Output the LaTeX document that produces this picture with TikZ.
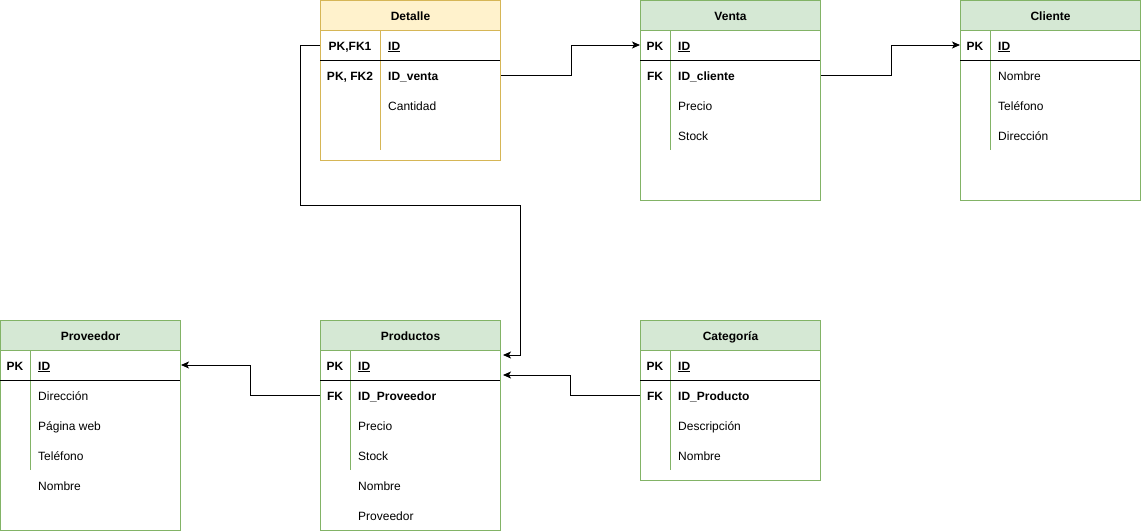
\documentclass[tikz,border=0pt]{standalone}
\usepackage{fontspec}
\setmainfont{Liberation Sans}
\usetikzlibrary{arrows.meta,calc}
\definecolor{gstroke}{HTML}{82B366}
\definecolor{gfill}{HTML}{D5E8D4}
\definecolor{ystroke}{HTML}{D6B656}
\definecolor{yfill}{HTML}{FFF2CC}
\begin{document}
\begin{tikzpicture}[x=1pt,y=-1pt,
  font=\fontsize{12}{14}\selectfont,
  tbody/.style={draw=#1, line width=1pt, fill=white, anchor=north west, minimum width=180pt, inner sep=0pt},
  thead/.style={draw=#1, line width=1pt, anchor=north west, minimum width=180pt, minimum height=30pt, inner sep=0pt, text height=10pt, text depth=0pt, font=\fontsize{12}{14}\selectfont\bfseries},
  keytxt/.style={inner sep=0pt, text height=10pt, text depth=0pt, font=\fontsize{12}{14}\selectfont\bfseries},
  fldtxt/.style={inner sep=0pt, text height=10pt, text depth=0pt, anchor=west},
  fldbold/.style={fldtxt, font=\fontsize{12}{14}\selectfont\bfseries},
  sepline/.style={draw=black, line width=1pt},
  divline/.style={draw=#1, line width=1pt},
  conn/.style={draw=black, line width=1pt, -{Stealth[length=8pt,width=7pt,inset=2pt]}}
]
\useasboundingbox (0,0) rectangle (1141,531);
\fill[white] (0,0) rectangle (1141,531);

% ---------- Detalle ----------
\node[tbody=ystroke, minimum height=160pt] (detalle) at (320,0) {};
\node[thead=ystroke, fill=yfill] (detalle-h) at (320,0) {Detalle};
\draw[divline=ystroke] (380,30) -- (380,150);
\draw[sepline] (320,60) -- (500,60);
\node[keytxt] (det-k1) at (350,45) {PK,FK1};
\node[fldbold] (det-f1) at (388,45) {\underline{ID}};
\node[keytxt] (det-k2) at (350,75) {PK, FK2};
\node[fldbold] (det-f2) at (388,75) {ID\_venta};
\node[fldtxt] (det-f3) at (388,105) {Cantidad};

% ---------- Venta ----------
\node[tbody=gstroke, minimum height=200pt] (venta) at (640,0) {};
\node[thead=gstroke, fill=gfill] (venta-h) at (640,0) {Venta};
\draw[divline=gstroke] (670,30) -- (670,150);
\draw[sepline] (640,60) -- (820,60);
\node[keytxt] (ven-k1) at (655,45) {PK};
\node[fldbold] (ven-f1) at (678,45) {\underline{ID}};
\node[keytxt] (ven-k2) at (655,75) {FK};
\node[fldbold] (ven-f2) at (678,75) {ID\_cliente};
\node[fldtxt] (ven-f3) at (678,105) {Precio};
\node[fldtxt] (ven-f4) at (678,135) {Stock};

% ---------- Cliente ----------
\node[tbody=gstroke, minimum height=200pt] (cliente) at (960,0) {};
\node[thead=gstroke, fill=gfill] (cliente-h) at (960,0) {Cliente};
\draw[divline=gstroke] (990,30) -- (990,150);
\draw[sepline] (960,60) -- (1140,60);
\node[keytxt] (cli-k1) at (975,45) {PK};
\node[fldbold] (cli-f1) at (998,45) {\underline{ID}};
\node[fldtxt] (cli-f2) at (998,75) {Nombre};
\node[fldtxt] (cli-f3) at (998,105) {Teléfono};
\node[fldtxt] (cli-f4) at (998,135) {Dirección};

% ---------- Proveedor ----------
\node[tbody=gstroke, minimum height=210pt] (proveedor) at (0,320) {};
\node[thead=gstroke, fill=gfill] (proveedor-h) at (0,320) {Proveedor};
\draw[divline=gstroke] (30,350) -- (30,470);
\draw[sepline] (0,380) -- (180,380);
\node[keytxt] (prv-k1) at (15,365) {PK};
\node[fldbold] (prv-f1) at (38,365) {\underline{ID}};
\node[fldtxt] (prv-f2) at (38,395) {Dirección};
\node[fldtxt] (prv-f3) at (38,425) {Página web};
\node[fldtxt] (prv-f4) at (38,455) {Teléfono};
\node[fldtxt] (prv-f5) at (38,485) {Nombre};

% ---------- Productos ----------
\node[tbody=gstroke, minimum height=210pt] (productos) at (320,320) {};
\node[thead=gstroke, fill=gfill] (productos-h) at (320,320) {Productos};
\draw[divline=gstroke] (350,350) -- (350,470);
\draw[sepline] (320,380) -- (500,380);
\node[keytxt] (pro-k1) at (335,365) {PK};
\node[fldbold] (pro-f1) at (358,365) {\underline{ID}};
\node[keytxt] (pro-k2) at (335,395) {FK};
\node[fldbold] (pro-f2) at (358,395) {ID\_Proveedor};
\node[fldtxt] (pro-f3) at (358,425) {Precio};
\node[fldtxt] (pro-f4) at (358,455) {Stock};
\node[fldtxt] (pro-f5) at (358,485) {Nombre};
\node[fldtxt] (pro-f6) at (358,515) {Proveedor};
\coordinate (pro-in1) at ($(productos.north east)+(2,35)$);
\coordinate (pro-in2) at ($(productos.north east)+(2,55)$);

% ---------- Categoría ----------
\node[tbody=gstroke, minimum height=160pt] (categoria) at (640,320) {};
\node[thead=gstroke, fill=gfill] (categoria-h) at (640,320) {Categoría};
\draw[divline=gstroke] (670,350) -- (670,470);
\draw[sepline] (640,380) -- (820,380);
\node[keytxt] (cat-k1) at (655,365) {PK};
\node[fldbold] (cat-f1) at (678,365) {\underline{ID}};
\node[keytxt] (cat-k2) at (655,395) {FK};
\node[fldbold] (cat-f2) at (678,395) {ID\_Producto};
\node[fldtxt] (cat-f3) at (678,425) {Descripción};
\node[fldtxt] (cat-f4) at (678,455) {Nombre};

% ---------- Connectors ----------
\draw[conn] (det-f2 -| detalle.east) -- ++(70,0) |- (ven-k1 -| venta.west);
\draw[conn] (ven-f2 -| venta.east) -- ++(70,0) |- (cli-k1 -| cliente.west);
\draw[conn] (det-k1 -| detalle.west) -- ++(-20,0) -- ++(0,160) -- ++(220,0) |- (pro-in1);
\draw[conn] (cat-k2 -| categoria.west) -- ++(-70,0) |- (pro-in2);
\draw[conn] (pro-k2 -| productos.west) -- ++(-70,0) |- (prv-k1 -| proveedor.east);
\end{tikzpicture}
\end{document}
